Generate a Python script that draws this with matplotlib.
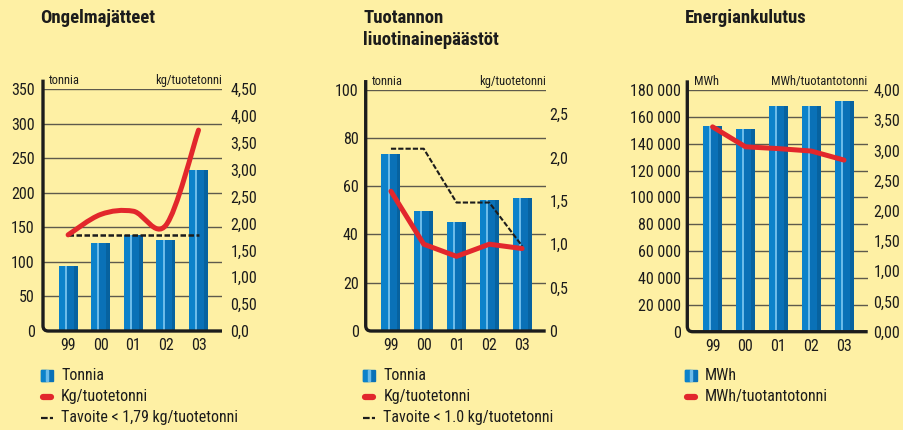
#!/usr/bin/env python
# coding: utf-8

"""Environmental indicators 1999-2003: waste, solvent emissions and energy use."""

import numpy as np
import matplotlib
matplotlib.use("Agg")
import matplotlib.pyplot as plt
from matplotlib import font_manager
from matplotlib.path import Path
from matplotlib.patches import PathPatch, Rectangle
from matplotlib.lines import Line2D

# ---- data -------------------------------------------------------------
years = ["99", "00", "01", "02", "03"]

waste_tonnes = [94, 127, 139, 132, 233]
waste_kg_per_t = [1.79, 2.17, 2.23, 1.97, 3.74]
waste_target = [1.79, 1.79, 1.79, 1.79, 1.79]

solvent_tonnes = [73.4, 49.7, 45.3, 54.3, 55.1]
solvent_kg_per_t = [1.61, 1.00, 0.86, 1.00, 0.95]
solvent_target = [2.10, 2.10, 1.48, 1.48, 0.98]

energy_mwh = [153000, 151000, 168000, 168000, 172000]
energy_mwh_per_t = [3.39, 3.06, 3.03, 2.99, 2.84]

waste_left_ticks = [0, 50, 100, 150, 200, 250, 300, 350]
waste_right_ticks = [0, 0.5, 1.0, 1.5, 2.0, 2.5, 3.0, 3.5, 4.0, 4.5]
waste_right_labels = ["0,0", "0,50", "1,00", "1,50", "2,00", "2,50", "3,00", "3,50", "4,00", "4,50"]

solvent_left_ticks = [0, 20, 40, 60, 80, 100]
solvent_right_ticks = [0, 0.5, 1.0, 1.5, 2.0, 2.5]
solvent_right_labels = ["0", "0,5", "1,0", "1,5", "2,0", "2,5"]

energy_left_ticks = [0, 20000, 40000, 60000, 80000, 100000, 120000, 140000, 160000, 180000]
energy_left_labels = ["0", "20 000", "40 000", "60 000", "80 000", "100 000",
                      "120 000", "140 000", "160 000", "180 000"]
energy_right_ticks = [0, 0.5, 1.0, 1.5, 2.0, 2.5, 3.0, 3.5, 4.0]
energy_right_labels = ["0,00", "0,50", "1,00", "1,50", "2,00", "2,50", "3,00", "3,50", "4,00"]

# ---- style ------------------------------------------------------------
W, H = 904, 430
BG = "#fef0a4"
RED = "#e2272c"
GRID = "#5e5a4c"
INK = "#1c1c1c"
BLUE = "#0c82ca"
BLUE_DARK = "#0a71b7"
BLUE_DARKER = "#07629f"
BLUE_LIGHT = "#6bbbe9"

available = {f.name for f in font_manager.fontManager.ttflist}
narrow = next((f for f in ["Liberation Sans Narrow", "DejaVu Sans Condensed", "Roboto Condensed"]
               if f in available), "DejaVu Sans")
plt.rcParams["font.family"] = [narrow, "DejaVu Sans"]
plt.rcParams["text.color"] = INK
plt.rcParams["xtick.color"] = INK
plt.rcParams["ytick.color"] = INK


def fx(x):
    return x / W


def fy(y):
    return 1 - y / H


def axes_rect(left, top, right, bottom):
    return [fx(left), fy(bottom), (right - left) / W, (bottom - top) / H]


def striped_bars(ax, x, values, width):
    x = np.asarray(x, dtype=float)
    ax.bar(x, values, width, color=BLUE, zorder=2)
    ax.bar(x + width * 0.2, values, width * 0.6, color=BLUE_DARK, zorder=2)
    ax.bar(x + width * 0.4, values, width * 0.2, color=BLUE_DARKER, zorder=2)
    ax.bar(x - width * 0.12, values, width * 0.11, color=BLUE_LIGHT, zorder=2)


def smooth_path(xs, ys):
    """Catmull-Rom curve through the points, as cubic Bezier segments."""
    pts = np.column_stack([xs, ys]).astype(float)
    n = len(pts)
    verts = [tuple(pts[0])]
    codes = [Path.MOVETO]
    for i in range(n - 1):
        p0 = pts[i - 1] if i > 0 else pts[i]
        p1 = pts[i]
        p2 = pts[i + 1]
        p3 = pts[i + 2] if i + 2 < n else pts[i + 1]
        c1 = p1 + (p2 - p0) / 6.0
        c2 = p2 - (p3 - p1) / 6.0
        verts += [tuple(c1), tuple(c2), tuple(p2)]
        codes += [Path.CURVE4] * 3
    return Path(verts, codes)


def frame(ax):
    rx, ry = 0.03, 0.022
    verts = [(0, 1.04), (0, ry), (0, 0), (rx, 0), (1, 0)]
    codes = [Path.MOVETO, Path.LINETO, Path.CURVE3, Path.CURVE3, Path.LINETO]
    ax.add_patch(PathPatch(Path(verts, codes), transform=ax.transAxes, fill=False,
                           edgecolor=INK, lw=2.4, capstyle="butt", clip_on=False, zorder=5))


def panel(rect, bars, left_ticks, left_labels, left_pad, right_max, right_ticks,
          right_labels, right_pad, left_unit, right_unit):
    ax = fig.add_axes(rect)
    ax.set_facecolor("none")
    x = np.arange(len(years))
    striped_bars(ax, x, bars, 0.58)
    for t in left_ticks[1:]:
        ax.axhline(t, color=GRID, lw=1.0, zorder=1)
    ax.set_xlim(-0.77, 4.72)
    ax.set_ylim(0, left_ticks[-1])
    ax.set_xticks(x)
    ax.set_xticklabels(years, fontsize=11.5)
    ax.set_yticks(left_ticks)
    ax.set_yticklabels(left_labels, fontsize=11.5)
    ax.tick_params(axis="x", length=0, pad=5)
    ax.tick_params(axis="y", length=0, pad=left_pad)
    for s in ax.spines.values():
        s.set_visible(False)
    frame(ax)
    ax.text(0.035, 1.035, left_unit, transform=ax.transAxes, fontsize=9,
            ha="left", va="center")
    ax.text(1.0, 1.035, right_unit, transform=ax.transAxes, fontsize=9,
            ha="right", va="center")

    ax2 = ax.twinx()
    ax2.set_facecolor("none")
    ax2.set_ylim(0, right_max)
    ax2.set_yticks(right_ticks)
    ax2.set_yticklabels(right_labels, fontsize=11.5)
    ax2.tick_params(axis="y", length=0, pad=right_pad)
    for s in ax2.spines.values():
        s.set_visible(False)
    return ax, ax2


def legend_entry(x, y, kind, label):
    if kind == "bar":
        fig.add_artist(Rectangle((fx(x), fy(y + 5.5)), 12 / W, 11 / H, color=BLUE_DARK,
                                 transform=fig.transFigure))
        fig.add_artist(Rectangle((fx(x), fy(y + 5.5)), 5 / W, 11 / H, color=BLUE,
                                 transform=fig.transFigure))
        fig.add_artist(Rectangle((fx(x + 5), fy(y + 5.5)), 2 / W, 11 / H, color=BLUE_LIGHT,
                                 transform=fig.transFigure))
    elif kind == "red":
        fig.add_artist(Line2D([fx(x + 2), fx(x + 10)], [fy(y), fy(y)], color=RED, lw=4.5,
                              solid_capstyle="round", transform=fig.transFigure))
    else:
        fig.add_artist(Line2D([fx(x), fx(x + 12)], [fy(y), fy(y)], color=INK, lw=1.6,
                              dashes=(3, 1), transform=fig.transFigure))
    fig.text(fx(x + 20), fy(y), label, fontsize=11.5, ha="left", va="center")


fig = plt.figure(figsize=(W / 100, H / 100), dpi=100)
fig.patch.set_facecolor(BG)
x = np.arange(len(years))

# ---- Ongelmajätteet ---------------------------------------------------
ax, ax2 = panel(axes_rect(43, 89.3, 222, 331), waste_tonnes, waste_left_ticks,
                [str(t) for t in waste_left_ticks], 6, 4.5, waste_right_ticks,
                waste_right_labels, 6, "tonnia", "kg/tuotetonni")
ax2.plot(x, waste_target, color=INK, lw=1.8, dashes=(2.2, 1.0), zorder=3)
ax2.add_patch(PathPatch(smooth_path(x, waste_kg_per_t), fill=False, edgecolor=RED,
                        lw=3.6, capstyle="round", zorder=4))
fig.text(fx(40), fy(18), "Ongelmajätteet", fontsize=13.5, fontweight="bold",
         ha="left", va="center")
legend_entry(41, 375.7, "bar", "Tonnia")
legend_entry(41, 396.7, "red", "Kg/tuotetonni")
legend_entry(41, 417.7, "dash", "Tavoite < 1,79 kg/tuotetonni")

# ---- Tuotannon liuotinainepäästöt -------------------------------------
ax, ax2 = panel(axes_rect(365.7, 89.7, 545.7, 331), solvent_tonnes, solvent_left_ticks,
                [str(t) for t in solvent_left_ticks], 5, 2.78, solvent_right_ticks,
                solvent_right_labels, 2.6, "tonnia", "kg/tuotetonni")
ax2.plot(x, solvent_target, color=INK, lw=1.5, dashes=(2.5, 1.0), zorder=3)
ax2.plot(x, solvent_kg_per_t, color=RED, lw=3.6, solid_capstyle="round",
         solid_joinstyle="round", zorder=4)
fig.text(fx(363.3), fy(18), "Tuotannon", fontsize=13.5, fontweight="bold",
         ha="left", va="center")
fig.text(fx(363.3), fy(40), "liuotinainepäästöt", fontsize=13.5, fontweight="bold",
         ha="left", va="center")
legend_entry(363.3, 375.7, "bar", "Tonnia")
legend_entry(363.3, 396.7, "red", "Kg/tuotetonni")
legend_entry(363.3, 417.7, "dash", "Tavoite < 1.0 kg/tuotetonni")

# ---- Energiankulutus --------------------------------------------------
ax, ax2 = panel(axes_rect(687.3, 90, 867.7, 331.7), energy_mwh, energy_left_ticks,
                energy_left_labels, 4.5, 4.0, energy_right_ticks,
                energy_right_labels, 4, "MWh", "MWh/tuotantotonni")
ax2.plot(x, energy_mwh_per_t, color=RED, lw=3.6, solid_capstyle="round",
         solid_joinstyle="round", zorder=4)
fig.text(fx(685), fy(18), "Energiankulutus", fontsize=13.5, fontweight="bold",
         ha="left", va="center")
legend_entry(685, 375.7, "bar", "MWh")
legend_entry(685, 396.7, "red", "MWh/tuotantotonni")

fig.savefig("out.png", dpi=100, facecolor=BG)
